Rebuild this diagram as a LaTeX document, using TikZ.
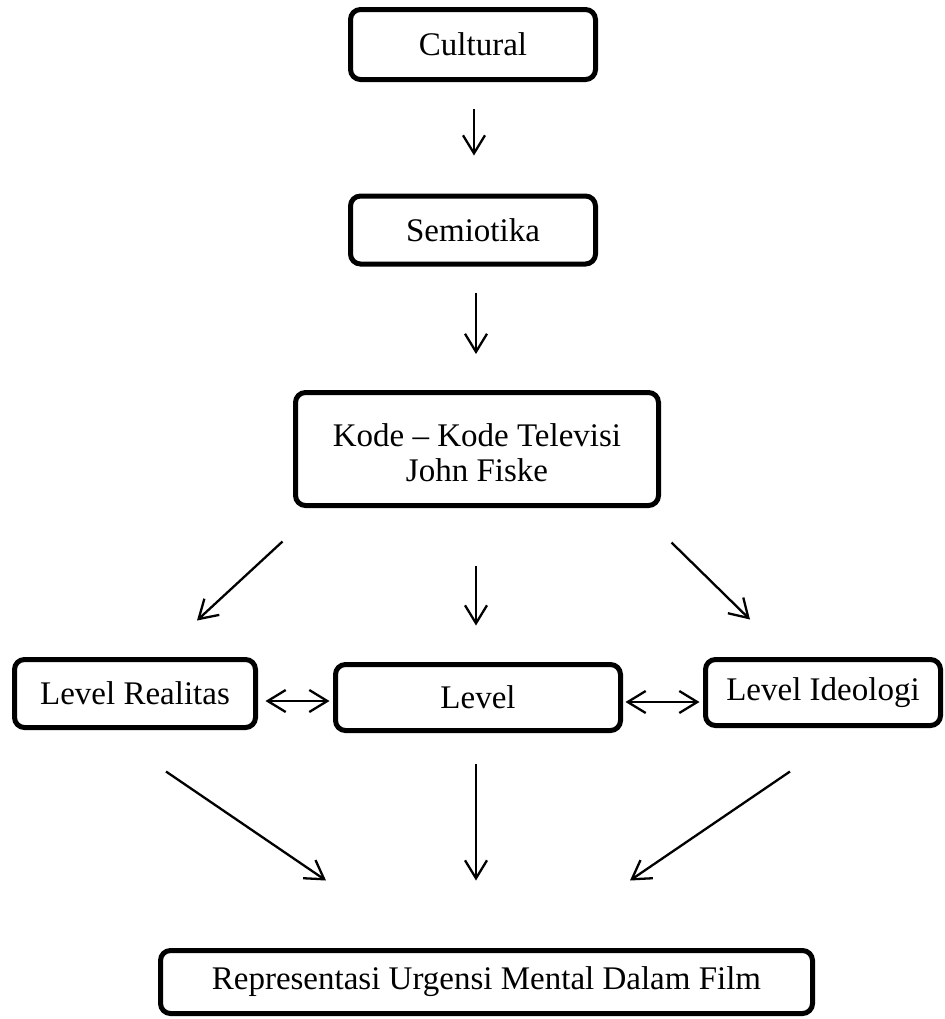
\documentclass[tikz,border=0pt]{standalone}
\usepackage{fontspec}
\setmainfont{Liberation Serif}
\usetikzlibrary{arrows.meta,calc}
\begin{document}
\begin{tikzpicture}[x=0.5pt,y=-0.5pt,
    kotak/.style={draw,line width=2.5pt,rounded corners=5pt,inner sep=0pt,align=center,
        font=\fontsize{16.5}{17.5}\selectfont},
    ukuran/.style 2 args={minimum width=#1*0.5pt,minimum height=#2*0.5pt},
    panah/.style={-{Straight Barb[length=9pt,width=11pt]},line width=1.15pt},
    panahdua/.style={{Straight Barb[length=9pt,width=11pt]}-{Straight Barb[length=9pt,width=11pt]},line width=1.15pt}]
    \useasboundingbox (0,0) rectangle (945,1019);

    % Boxes
    \node[kotak,ukuran={245}{70}] (cult) at (473,44.5) {Cultural};
    \node[kotak,ukuran={245}{68}] (semi) at (473,230) {Semiotika};
    \node[kotak,ukuran={363}{113}] (kode) at (477,449)
        {\raisebox{-4pt}[\height][\depth]{\begin{tabular}{@{}c@{}}Kode -- Kode Televisi\\John Fiske\end{tabular}}};
    \node[kotak,ukuran={241}{68}] (real) at (135,693.5) {Level Realitas};
    \node[kotak,ukuran={285}{66}] (lev) at (478,697.5) {Level};
    \node[kotak,ukuran={235}{66}] (ideo) at (823,692.5) {Level Ideologi};
    \node[kotak,ukuran={652}{63}] (repr) at (486.5,982) {Representasi Urgensi Mental Dalam Film};

    % Top arrows
    \draw[panah] ($(cult.south)+(1,27)$) -- ($(semi.north)+(1,-38)$);
    \draw[panah] ($(semi.south)+(3,26)$) -- ($(kode.north)+(-1,-36)$);

    % Kode -> levels
    \draw[panah] ($(kode.south west)+(-10.5,33.5)$) -- ($(real.north)+(62,-36.5)$);
    \draw[panah] ($(kode.south)+(-1,57.5)$) -- ($(lev.north)+(-2,-36.5)$);
    \draw[panah] ($(kode.south east)+(10.5,34.5)$) -- ($(ideo.north)+(-73,-37.5)$);

    % Between levels
    \draw[panahdua] ($(real.east)+(7.5,7.5)$) -- ($(lev.west)+(-3.5,3.5)$);
    \draw[panahdua] ($(lev.east)+(2.5,4.5)$) -- ($(ideo.west)+(-3.5,9.5)$);

    % Levels -> representasi
    \foreach \dari/\a/\b/\c/\d in {real/31/41.5/-160.5/-67.5, lev/-2/30.5/-10.5/-67.5, ideo/-33/43.5/143.5/-67.5}
        \draw[panah] ($(\dari.south)+(\a,\b)$) -- ($(repr.north)+(\c,\d)$);
\end{tikzpicture}
\end{document}
